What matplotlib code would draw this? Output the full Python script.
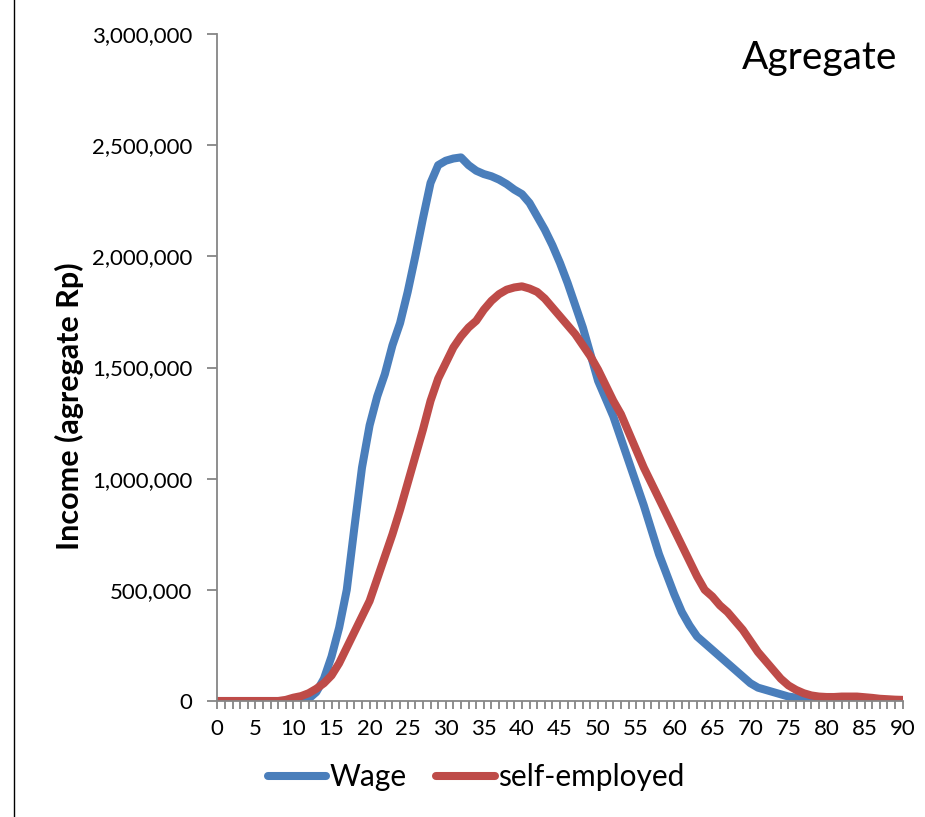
import numpy as np
import matplotlib
matplotlib.use('Agg')
import matplotlib.pyplot as plt
from matplotlib.ticker import FuncFormatter, MultipleLocator
from matplotlib.lines import Line2D

plt.rcParams['font.family'] = ['Lato', 'DejaVu Sans']

ages = np.arange(0, 91)

wage = [0, 0, 0, 0, 0, 0, 0, 0, 0, 0,
        0, 0, 10000, 40000, 100000, 200000, 330000, 500000, 780000, 1050000,
        1240000, 1370000, 1470000, 1600000, 1700000, 1840000, 2000000, 2170000, 2330000, 2410000,
        2430000, 2440000, 2445000, 2410000, 2385000, 2370000, 2360000, 2345000, 2325000, 2300000,
        2280000, 2240000, 2180000, 2120000, 2050000, 1970000, 1880000, 1780000, 1680000, 1560000,
        1440000, 1360000, 1280000, 1180000, 1080000, 980000, 880000, 770000, 660000, 570000,
        480000, 400000, 340000, 290000, 260000, 230000, 200000, 170000, 140000, 110000,
        80000, 60000, 50000, 40000, 30000, 20000, 15000, 10000, 5000, 0,
        0, 0, 0, 0, 0, 0, 0, 0, 0, 0, 0]

self_employed = [0, 0, 0, 0, 0, 0, 0, 0, 0, 5000,
                 15000, 22000, 35000, 55000, 80000, 115000, 170000, 240000, 310000, 380000,
                 450000, 550000, 650000, 750000, 860000, 980000, 1100000, 1220000, 1350000, 1450000,
                 1520000, 1590000, 1640000, 1680000, 1710000, 1760000, 1800000, 1830000, 1850000, 1860000,
                 1865000, 1855000, 1840000, 1810000, 1770000, 1730000, 1690000, 1650000, 1600000, 1550000,
                 1490000, 1420000, 1350000, 1290000, 1210000, 1130000, 1050000, 980000, 910000, 840000,
                 770000, 700000, 630000, 560000, 500000, 470000, 430000, 400000, 360000, 320000,
                 270000, 220000, 180000, 140000, 100000, 70000, 50000, 35000, 25000, 20000,
                 18000, 18000, 20000, 20000, 20000, 17000, 14000, 10000, 8000, 6000, 5000]

W, H = 925, 817
fig = plt.figure(figsize=(W / 100, H / 100), dpi=100)
ax_w = 902.7 - 217.3
ax_h = 701 - 34
ax = fig.add_axes([217.3 / W, 1 - 701 / H, ax_w / W, ax_h / H])

blue = '#4A7EBB'
red = '#BE4B48'
ax.plot(ages, wage, color=blue, lw=5.8, solid_capstyle='round', solid_joinstyle='round', label='Wage')
ax.plot(ages, self_employed, color=red, lw=5.8, solid_capstyle='round', solid_joinstyle='round', label='self-employed')

ax.set_xlim(0, 90)
ax.set_ylim(0, 3000000)
ax.xaxis.set_major_locator(MultipleLocator(5))
ax.xaxis.set_minor_locator(MultipleLocator(1))
ax.yaxis.set_major_locator(MultipleLocator(500000))
ax.yaxis.set_major_formatter(FuncFormatter(lambda v, p: '{:,.0f}'.format(v)))

for s in ['top', 'right']:
    ax.spines[s].set_visible(False)
for s in ['left', 'bottom']:
    ax.spines[s].set_color('#868686')
    ax.spines[s].set_linewidth(1.3)

ax.tick_params(axis='x', which='both', direction='out', length=6, width=1.3, color='#868686',
               labelsize=16, pad=7)
ax.tick_params(axis='y', which='major', direction='out', length=7, width=1.3, color='#868686',
               labelsize=16, pad=11)
ax.set_ylabel('Income (agregate Rp)', fontsize=22, fontweight='bold')
ax.yaxis.set_label_coords((84 - 217.3) / ax_w, (701 - 406) / ax_h)

fig.text(897 / W, 1 - 40 / H, 'Agregate', ha='right', va='top', fontsize=28)

fig.legend(loc='center', bbox_to_anchor=(476 / W, 1 - 777 / H), ncol=2, frameon=False,
           fontsize=21.5, handlelength=1.95, handletextpad=0.12, columnspacing=1.0,
           borderpad=0, borderaxespad=0)

fig.add_artist(Line2D([14 / W, 14 / W], [0, 1], color='black', lw=1.0, transform=fig.transFigure))

fig.savefig('out.png', dpi=100)
